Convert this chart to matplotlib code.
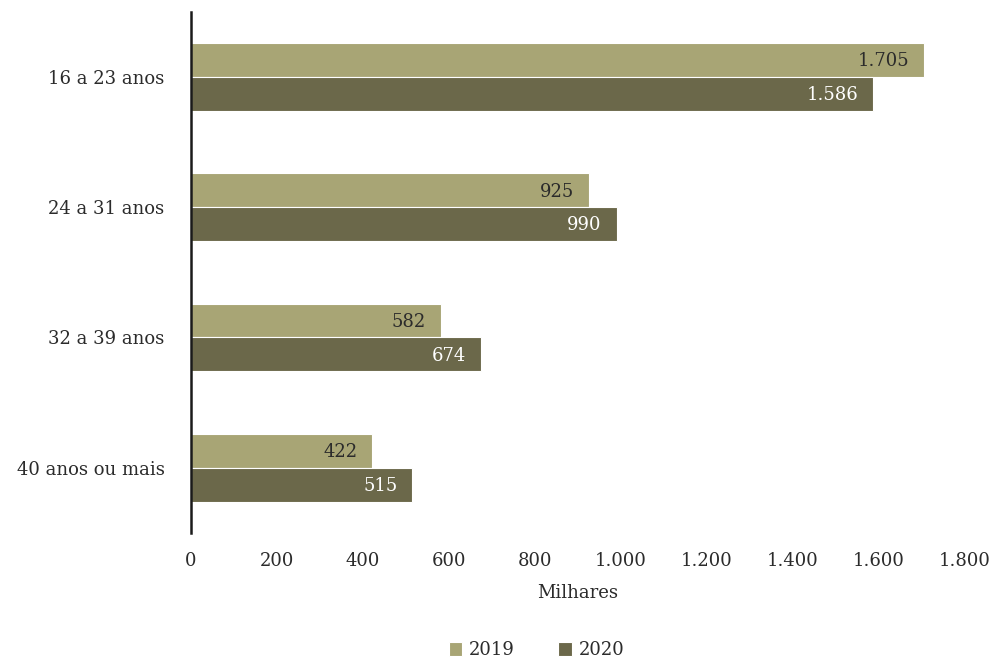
import matplotlib
matplotlib.use("Agg")
import matplotlib.pyplot as plt
import numpy as np
from matplotlib.ticker import FuncFormatter

categories = ["16 a 23 anos", "24 a 31 anos", "32 a 39 anos", "40 anos ou mais"]
values_2019 = [1705, 925, 582, 422]
values_2020 = [1586, 990, 674, 515]
series_labels = ["2019", "2020"]
xticks = [0, 200, 400, 600, 800, 1000, 1200, 1400, 1600, 1800]

COLOR_2019 = "#A8A575"
COLOR_2020 = "#6B684A"
TEXT = "#2b2b2b"
FS = 13

plt.rcParams["font.family"] = ["DejaVu Serif"]


def fmt_pt(v, _pos=None):
    return f"{int(v):,}".replace(",", ".")


fig = plt.figure(figsize=(9.94, 6.61), dpi=100)
ax = fig.add_axes([0.192, 0.194, 0.779, 0.788])

y = np.arange(len(categories))
h = 0.26
b1 = ax.barh(y - h / 2, values_2019, height=h, color=COLOR_2019,
             edgecolor="white", linewidth=0.8, label=series_labels[0])
b2 = ax.barh(y + h / 2, values_2020, height=h, color=COLOR_2020,
             edgecolor="white", linewidth=0.8, label=series_labels[1])

for bar, v in zip(b1, values_2019):
    ax.text(v - 35, bar.get_y() + bar.get_height() / 2 + 0.01, fmt_pt(v),
            ha="right", va="center", fontsize=FS, color=TEXT)
for bar, v in zip(b2, values_2020):
    ax.text(v - 35, bar.get_y() + bar.get_height() / 2 + 0.01, fmt_pt(v),
            ha="right", va="center", fontsize=FS, color="white")

ax.set_ylim(len(categories) - 0.5, -0.5)
ax.set_xlim(0, 1800)
ax.set_yticks(y)
ax.set_yticklabels(categories, fontsize=FS, color=TEXT)
ax.set_xticks(xticks)
ax.xaxis.set_major_formatter(FuncFormatter(fmt_pt))
ax.tick_params(axis="x", labelsize=FS, colors=TEXT, length=0, pad=14)
ax.tick_params(axis="y", length=0, pad=19)
for s in ["top", "right", "bottom"]:
    ax.spines[s].set_visible(False)
ax.spines["left"].set_linewidth(1.8)
ax.spines["left"].set_color("#1a1a1a")
ax.set_xlabel("Milhares", fontsize=FS, color=TEXT, labelpad=10)

fig.legend(handles=[b1, b2], labels=series_labels, loc="lower center",
           bbox_to_anchor=(0.54, -0.022), ncol=2, frameon=False, fontsize=FS,
           labelcolor=TEXT, handlelength=0.75, handleheight=0.75,
           columnspacing=2.4, handletextpad=0.4)

fig.savefig("out.png", dpi=100)
